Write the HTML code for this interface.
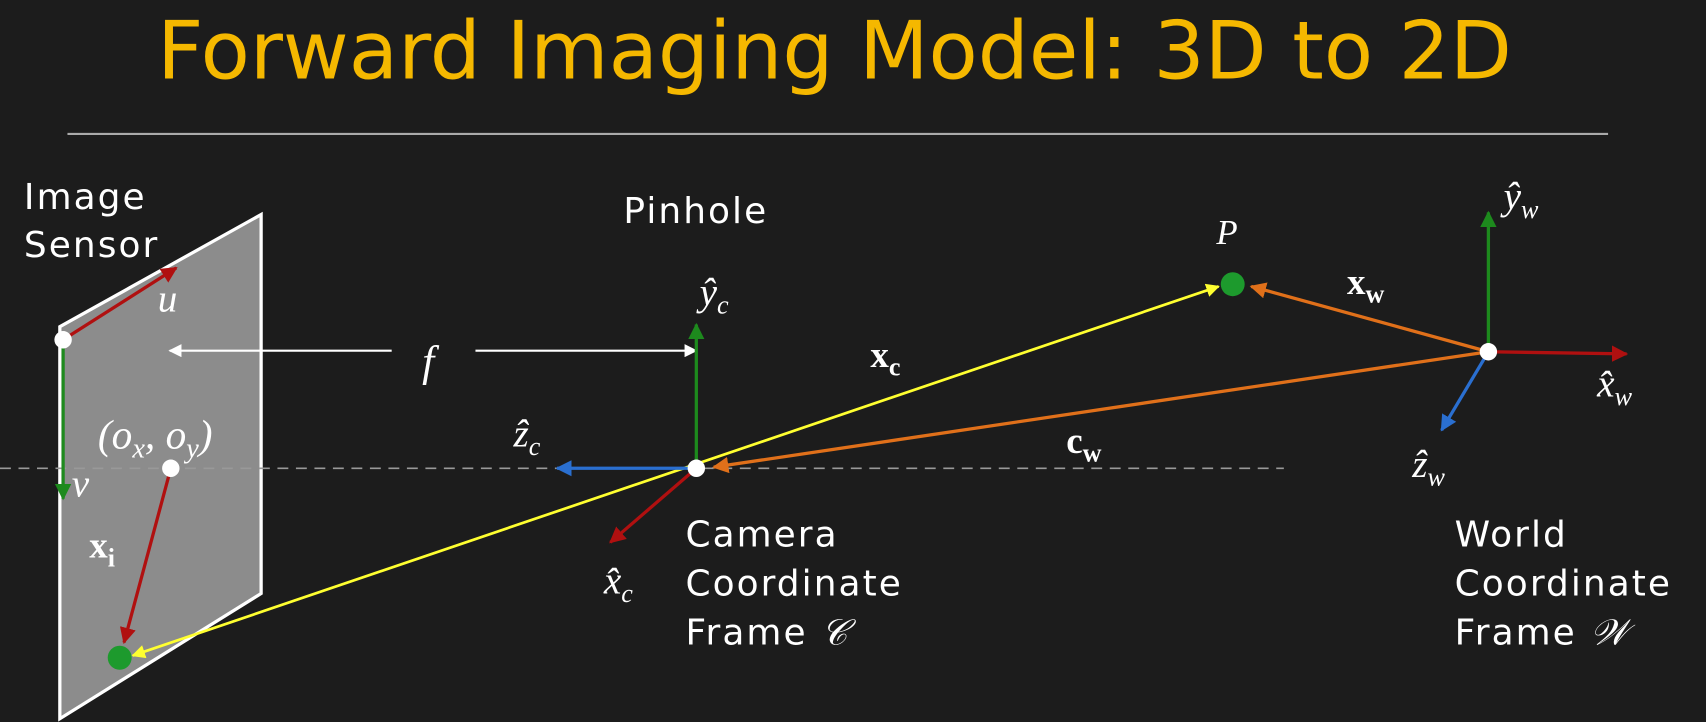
<!DOCTYPE html>
<html><head><meta charset="utf-8"><style>
html,body{margin:0;padding:0;background:#1c1c1c;}
svg{display:block}
text{font-family:"DejaVu Sans","Liberation Sans",sans-serif;fill:#fff}
.t{font-size:33px;letter-spacing:1.9px}
.m{font-family:"Liberation Serif",serif;font-style:italic;letter-spacing:0}
.b{font-family:"Liberation Serif",serif;font-weight:bold}
</style></head><body>
<svg width="1706" height="722" viewBox="0 0 1568 663" preserveAspectRatio="none">
<defs>
<marker id="aw" viewBox="0 0 10 10" refX="9" refY="5" markerWidth="6" markerHeight="6" orient="auto-start-reverse"><path d="M0,0L10,5L0,10z" fill="#fff"/></marker>
<marker id="ar" viewBox="0 0 10 10" refX="9" refY="5" markerWidth="5" markerHeight="5" orient="auto"><path d="M0,0L10,5L0,10z" fill="#b01010"/></marker>
<marker id="ag" viewBox="0 0 10 10" refX="9" refY="5" markerWidth="5" markerHeight="5" orient="auto"><path d="M0,0L10,5L0,10z" fill="#1d8a1d"/></marker>
<marker id="ab" viewBox="0 0 10 10" refX="9" refY="5" markerWidth="5" markerHeight="5" orient="auto"><path d="M0,0L10,5L0,10z" fill="#2a6fd0"/></marker>
<marker id="ay" viewBox="0 0 10 10" refX="9" refY="5" markerWidth="5" markerHeight="5" orient="auto-start-reverse"><path d="M0,0L10,5L0,10z" fill="#ffff30"/></marker>
<marker id="ao" viewBox="0 0 10 10" refX="9" refY="5" markerWidth="5" markerHeight="5" orient="auto"><path d="M0,0L10,5L0,10z" fill="#e0701a"/></marker>
</defs>
<rect width="1568" height="663" fill="#1c1c1c"/>
<text x="767" y="72" text-anchor="middle" font-size="74" style="fill:#f5b800">Forward Imaging Model: 3D to 2D</text>
<line x1="62" y1="123" x2="1478" y2="123" stroke="#aaa" stroke-width="2"/>

<polygon points="55,300 240,197 240,545 55,660" fill="#8c8c8c" stroke="#fff" stroke-width="3"/>
<text class="t" x="22" y="192">Image</text>
<text class="t" x="22" y="236">Sensor</text>
<line x1="0" y1="430" x2="1180" y2="430" stroke="#999" stroke-width="1.5" stroke-dasharray="10,7"/>
<line x1="58" y1="312" x2="162" y2="246" stroke="#b01010" stroke-width="3" marker-end="url(#ar)"/>
<line x1="58" y1="312" x2="58" y2="458" stroke="#1d8a1d" stroke-width="3" marker-end="url(#ag)"/>
<circle cx="58" cy="312" r="8" fill="#fff"/>
<text class="m" x="145" y="286" font-size="36">u</text>
<text class="m" x="66" y="456" font-size="36">v</text>
<text class="m" x="90" y="412" font-size="38">(o<tspan font-size="26" dy="8">x</tspan><tspan dy="-8">, o</tspan><tspan font-size="26" dy="8">y</tspan><tspan dy="-8">)</tspan></text>
<line x1="157" y1="430" x2="114" y2="590" stroke="#b01010" stroke-width="3" marker-end="url(#ar)"/>
<circle cx="157" cy="430" r="8" fill="#fff"/>
<text class="b" x="82" y="512" font-size="34">x<tspan font-size="24" dy="8">i</tspan></text>

<line x1="360" y1="322" x2="156" y2="322" stroke="#fff" stroke-width="2" marker-end="url(#aw)"/>
<line x1="437" y1="322" x2="640" y2="322" stroke="#fff" stroke-width="2" marker-end="url(#aw)"/>
<text class="m" x="388" y="345" font-size="40">f</text>

<line x1="1120" y1="263" x2="122" y2="602" stroke="#ffff30" stroke-width="2.5" marker-start="url(#ay)" marker-end="url(#ay)"/>
<line x1="1368" y1="323" x2="656" y2="429" stroke="#e0701a" stroke-width="3" marker-end="url(#ao)"/>
<line x1="1368" y1="323" x2="1150" y2="263" stroke="#e0701a" stroke-width="3" marker-end="url(#ao)"/>
<circle cx="110" cy="604" r="11" fill="#1d9a2d"/>

<text class="t" x="573" y="205">Pinhole</text>
<line x1="640" y1="430" x2="640" y2="298" stroke="#1d8a1d" stroke-width="3" marker-end="url(#ag)"/>
<line x1="640" y1="430" x2="512" y2="430" stroke="#2a6fd0" stroke-width="3" marker-end="url(#ab)"/>
<line x1="640" y1="430" x2="561" y2="498" stroke="#b01010" stroke-width="3" marker-end="url(#ar)"/>
<circle cx="640" cy="430" r="8" fill="#fff"/>
<text class="m" x="643" y="280" font-size="36">ŷ<tspan font-size="24" dy="8">c</tspan></text>
<text class="m" x="472" y="410" font-size="36">ẑ<tspan font-size="24" dy="8">c</tspan></text>
<text class="m" x="555" y="545" font-size="36">x̂<tspan font-size="24" dy="8">c</tspan></text>
<text class="t" x="630" y="502">Camera</text>
<text class="t" x="630" y="547">Coordinate</text>
<text class="t" x="630" y="592">Frame <tspan class="m">𝒞</tspan></text>
<text class="b" x="800" y="337" font-size="34">x<tspan font-size="24" dy="8">c</tspan></text>
<text class="b" x="980" y="416" font-size="34">c<tspan font-size="24" dy="8">w</tspan></text>

<text class="m" x="1118" y="224" font-size="32">P</text>
<circle cx="1133" cy="261" r="11" fill="#1d9a2d"/>
<text class="b" x="1238" y="270" font-size="34">x<tspan font-size="24" dy="8">w</tspan></text>
<line x1="1368" y1="323" x2="1368" y2="195" stroke="#1d8a1d" stroke-width="3" marker-end="url(#ag)"/>
<line x1="1368" y1="323" x2="1495" y2="325" stroke="#b01010" stroke-width="3" marker-end="url(#ar)"/>
<line x1="1368" y1="323" x2="1325" y2="395" stroke="#2a6fd0" stroke-width="3" marker-end="url(#ab)"/>
<circle cx="1368" cy="323" r="8" fill="#fff"/>
<text class="m" x="1382" y="192" font-size="36">ŷ<tspan font-size="24" dy="8">w</tspan></text>
<text class="m" x="1468" y="364" font-size="36">x̂<tspan font-size="24" dy="8">w</tspan></text>
<text class="m" x="1298" y="438" font-size="36">ẑ<tspan font-size="24" dy="8">w</tspan></text>
<text class="t" x="1337" y="502">World</text>
<text class="t" x="1337" y="547">Coordinate</text>
<text class="t" x="1337" y="592">Frame <tspan class="m">𝒲</tspan></text>
</svg>
</body></html>
